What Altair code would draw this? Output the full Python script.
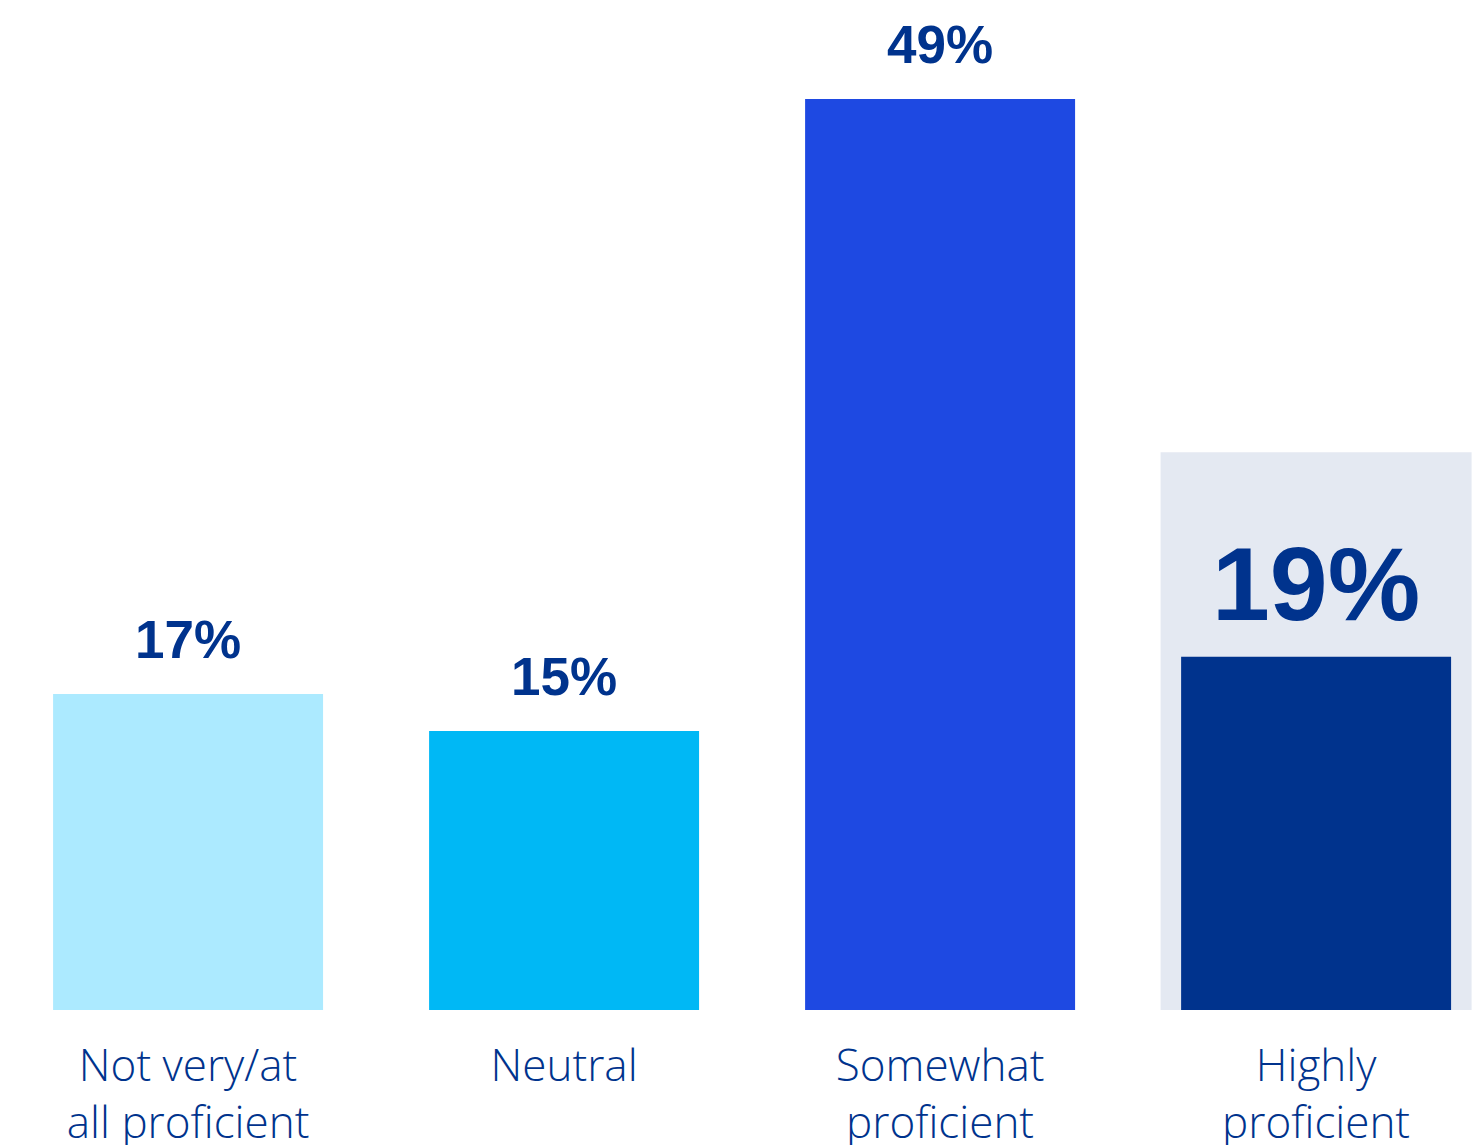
import altair as alt
import pandas as pd

categories = ["Not very/at\nall proficient", "Neutral", "Somewhat\nproficient", "Highly\nproficient"]
values = [17, 15, 49, 19]
labels = ["17%", "15%", "49%", "19%"]
colors = ["#ACEAFF", "#00B8F5", "#1E49E2", "#00338D"]
highlight = [False, False, False, True]
highlight_bg_value = 30

df = pd.DataFrame({
    "cat": categories,
    "value": values,
    "label": labels,
    "color": colors,
    "hl": highlight,
})
df["bg"] = [highlight_bg_value if h else None for h in highlight]

NAVY = "#00338D"

xscale = alt.Scale(domain=categories, paddingInner=0.282, paddingOuter=0.1117, align=0.632)
yscale = alt.Scale(domain=[0, 54.32], nice=False, zero=True)

x_enc = alt.X("cat:N", scale=xscale, sort=categories, title=None,
              axis=alt.Axis(domain=False, ticks=False, tickSize=0, labelAngle=0,
                            labelFontSize=44, labelFont="Open Sans", labelFontWeight=300,
                            labelColor=NAVY, labelLineHeight=57, labelPadding=35,
                            labelBaseline="top", labelLimit=0,
                            labelExpr="split(datum.label, '\\n')"))

base = alt.Chart(df)

bg = base.transform_filter("datum.hl").mark_bar(width=311, color="#E4E9F2").encode(
    x=x_enc,
    y=alt.Y("bg:Q", scale=yscale, axis=None),
)

bars = base.mark_bar().encode(
    x=x_enc,
    y=alt.Y("value:Q", scale=yscale, axis=None),
    color=alt.Color("color:N", scale=None),
)

txt = base.transform_filter("!datum.hl").mark_text(
    font="Liberation Sans", fontWeight="bold", fontSize=53, color=NAVY,
    baseline="alphabetic", dy=-36
).encode(
    x=x_enc,
    y=alt.Y("value:Q", scale=yscale, axis=None),
    text="label:N",
)

txt_hl = base.transform_filter("datum.hl").mark_text(
    font="Liberation Sans", fontWeight="bold",
    fontSize=104, color=NAVY, baseline="alphabetic", dy=-37
).encode(
    x=x_enc,
    y=alt.Y("value:Q", scale=yscale, axis=None),
    text="label:N",
)

chart = alt.layer(bg, bars, txt, txt_hl).properties(
    width=1482, height=1010,
    autosize=alt.AutoSizeParams(type="none"),
    padding={"left": 0, "top": 0, "right": 0, "bottom": 135},
    background="white",
).configure_view(stroke=None)

chart.save("out.html", embed_options={"renderer": "svg", "actions": False})
